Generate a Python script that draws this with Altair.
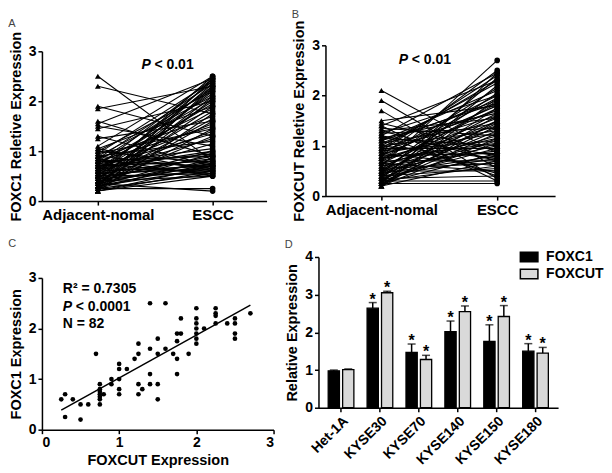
import altair as alt
import pandas as pd

FONT = "Liberation Sans"

# ---------------- Panel A: FOXC1, paired adjacent-normal vs ESCC ----------------
a_adj = [2.5, 2.3, 1.9, 1.85, 1.6, 1.55, 1.5, 1.45, 1.3, 1.25,
         1.1, 1.05, 1.05, 1.0, 1.0, 0.95, 0.95, 0.9, 0.9, 0.9,
         0.85, 0.85, 0.85, 0.8, 0.8, 0.8, 0.8, 0.75, 0.75, 0.75,
         0.75, 0.7, 0.7, 0.7, 0.7, 0.65, 0.65, 0.65, 0.65, 0.6,
         0.6, 0.6, 0.6, 0.55, 0.55, 0.55, 0.55, 0.5, 0.5, 0.5,
         0.5, 0.5, 0.45, 0.45, 0.45, 0.45, 0.4, 0.4, 0.4, 0.4,
         0.4, 0.35, 0.35, 0.35, 0.35, 0.35, 0.3, 0.3, 0.3, 0.3,
         0.3, 0.3, 0.25, 0.25, 0.25, 0.25, 0.25, 0.2, 0.2, 0.2,
         0.2, 0.2]
a_escc = [0.8, 1.75, 1.3, 2.3, 0.9, 2.45, 1.1, 2.0, 0.7, 1.6,
          2.5, 0.6, 1.9, 2.2, 0.75, 1.45, 2.4, 0.65, 1.2, 2.1,
          0.5, 1.7, 2.35, 0.9, 1.5, 2.25, 0.7, 1.05, 2.05, 0.55,
          1.85, 2.45, 0.8, 1.35, 0.95, 2.15, 0.6, 1.55, 1.0, 2.3,
          0.7, 1.25, 1.95, 0.85, 2.4, 0.65, 1.4, 2.0, 0.75, 1.15,
          2.5, 0.55, 1.8, 0.9, 2.2, 0.6, 1.65, 0.7, 2.35, 1.0,
          0.5, 0.2, 1.9, 0.8, 2.1, 1.3, 0.65, 2.25, 0.95, 1.6,
          0.75, 2.45, 0.55, 1.45, 0.85, 2.05, 0.25, 0.7, 1.75, 0.6,
          2.3, 0.5]

# ---------------- Panel B: FOXCUT, paired adjacent-normal vs ESCC ----------------
b_adj = [2.1, 1.9, 1.7, 1.5, 1.45, 1.4, 1.35, 1.3, 1.3, 1.25,
         1.25, 1.2, 1.2, 1.15, 1.15, 1.1, 1.1, 1.05, 1.05, 1.0,
         1.0, 1.0, 0.95, 0.95, 0.9, 0.9, 0.9, 0.85, 0.85, 0.85,
         0.8, 0.8, 0.8, 0.75, 0.75, 0.75, 0.7, 0.7, 0.7, 0.65,
         0.65, 0.65, 0.6, 0.6, 0.6, 0.55, 0.55, 0.55, 0.5, 0.5,
         0.5, 0.45, 0.45, 0.45, 0.45, 0.4, 0.4, 0.4, 0.4, 0.35,
         0.35, 0.35, 0.35, 0.3, 0.3, 0.3, 0.3, 0.3, 0.25, 0.25,
         0.25, 0.25, 0.25, 0.2, 0.2, 0.2, 0.2, 1.4, 1.2, 1.1,
         0.95, 0.5]
b_escc = [0.85, 0.55, 0.35, 1.8, 0.9, 2.3, 1.2, 1.55, 0.7, 2.0,
          1.35, 0.8, 2.45, 1.65, 1.0, 2.1, 0.45, 1.45, 1.9, 0.75,
          2.25, 1.3, 1.7, 0.95, 2.4, 1.1, 1.6, 0.6, 2.0, 1.25,
          1.8, 0.85, 2.5, 1.4, 1.05, 1.95, 0.7, 1.55, 2.15, 1.15,
          0.5, 1.75, 2.7, 1.35, 0.9, 1.85, 1.2, 0.65, 2.05, 1.5,
          1.0, 0.8, 1.65, 2.35, 1.1, 0.55, 1.45, 1.9, 0.75, 1.3,
          2.2, 0.95, 0.4, 1.6, 1.05, 0.3, 1.75, 0.6, 1.4, 2.45,
          0.85, 1.25, 0.25, 1.5, 0.7, 1.15, 1.95, 0.3, 0.4, 1.85,
          2.3, 0.5]

# ---------------- Panel C: correlation scatter ----------------
c_foxcut = [0.25, 0.3, 0.3, 0.4, 0.5, 0.5, 0.6, 0.7,
            0.75, 0.75, 0.75, 0.75, 0.75, 0.75, 0.75, 0.8,
            0.9, 0.9, 1.0, 1.0, 1.0, 1.0, 1.0, 1.1, 1.2,
            1.25, 1.25, 1.25, 1.25, 1.3, 1.4, 1.4, 1.4, 1.4,
            1.5, 1.5, 1.5, 1.5, 1.6, 1.6, 1.7, 1.75, 1.75, 1.75, 1.75,
            1.8, 1.8, 1.9, 2.0, 2.0, 2.0, 2.0, 2.0, 2.0, 2.0, 2.1,
            2.25, 2.25, 2.25, 2.25, 2.4, 2.5, 2.5, 2.5, 2.5, 2.7]
c_foxc1 = [0.6, 0.7, 0.25, 0.6, 0.5, 0.2, 0.5, 1.5,
           0.9, 0.8, 0.75, 0.7, 0.65, 0.6, 0.5, 0.7,
           1.0, 0.9, 1.3, 1.2, 1.0, 0.8, 0.7, 1.2, 1.4,
           1.7, 1.5, 0.9, 0.7, 0.8, 2.5, 1.6, 1.1, 0.9,
           1.8, 1.5, 0.9, 0.6, 2.5, 1.6, 1.5, 1.9, 1.75, 1.4, 1.1,
           1.9, 2.2, 1.5, 2.4, 2.2, 2.1, 2.0, 1.9, 1.8, 1.7, 2.0,
           2.4, 2.3, 2.25, 2.1, 2.1, 2.2, 2.1, 1.9, 1.8, 2.3]

# ---------------- Panel D: cell lines ----------------
cells = ["Het-1A", "KYSE30", "KYSE70", "KYSE140", "KYSE150", "KYSE180"]
foxc1_mean = [0.98, 2.64, 1.47, 2.02, 1.76, 1.50]
foxc1_err = [0.02, 0.15, 0.22, 0.28, 0.44, 0.20]
foxcut_mean = [1.01, 3.05, 1.28, 2.55, 2.42, 1.45]
foxcut_err = [0.02, 0.04, 0.11, 0.15, 0.29, 0.15]
significant = [False, True, True, True, True, True]

LAB = dict(labelFont=FONT, labelFontWeight="bold", labelColor="black",
           titleFont=FONT, titleFontWeight="bold", titleFontSize=14.5, titleColor="black",
           domainColor="black", domainWidth=1.5, tickColor="black", tickWidth=1.5,
           tickSize=4, labelPadding=2, grid=False)


def letter(t, off):
    return alt.TitleParams(text=t, anchor="start", frame="bounds", offset=off,
                           fontSize=11, fontWeight="normal", font=FONT, color="#444")


def paired(adj, escc, ytitle, tag, w, h, top, xdom, px, py, off):
    rows = []
    for i, (a, e) in enumerate(zip(adj, escc)):
        rows.append({"id": i, "grp": 0, "v": a})
        rows.append({"id": i, "grp": 1, "v": e})
    df = pd.DataFrame(rows)
    xenc = alt.X("grp:Q", scale=alt.Scale(domain=xdom, nice=False, zero=False),
                 axis=alt.Axis(values=[0, 1], title=None, labelFontSize=15,
                               labelExpr="datum.value == 0 ? 'Adjacent-nomal' : 'ESCC'", **LAB))
    yenc = alt.Y("v:Q", scale=alt.Scale(domain=[0, 3], nice=False, range=[h, top]),
                 axis=alt.Axis(values=[0, 1, 2, 3], title=ytitle, titlePadding=5,
                               labelFontSize=14, **LAB))
    base = alt.Chart(df)
    lines = base.mark_line(color="black", strokeWidth=1.1).encode(x=xenc, y=yenc, detail="id:N")
    tri = base.transform_filter("datum.grp == 0").mark_point(
        shape="triangle-up", filled=True, color="black", size=34, opacity=1).encode(x=xenc, y=yenc)
    circ = base.transform_filter("datum.grp == 1").mark_circle(
        color="black", size=32, opacity=1).encode(x=xenc, y=yenc)
    ptxt = pd.DataFrame({"grp": [px], "v": [py]})
    p1 = alt.Chart(ptxt).mark_text(text="P", fontStyle="italic", fontWeight="bold", font=FONT,
                                   fontSize=14, align="left", baseline="middle",
                                   color="black").encode(x=xenc, y=yenc)
    p2 = alt.Chart(ptxt).mark_text(text="< 0.01", fontWeight="bold", font=FONT, fontSize=14,
                                   align="left", baseline="middle", dx=13,
                                   color="black").encode(x=xenc, y=yenc)
    return alt.layer(lines, tri, circ, p1, p2).properties(
        width=w, height=h, title=letter(tag, off))


A = paired(a_adj, a_escc, "FOXC1 Reletive Expression", "A", 225, 156, 6,
           [-0.487, 1.47], 0.38, 2.72, 2)
B = paired(b_adj, b_escc, "FOXCUT Reletive Expression", "B", 230, 151, 0,
           [-0.483, 1.5], 0.15, 2.70, 0)

# Panel C
CH, CTOP = 173, 21
dfc = pd.DataFrame({"x": c_foxcut, "y": c_foxc1})
xc = alt.X("x:Q", scale=alt.Scale(domain=[0, 3], nice=False),
           axis=alt.Axis(values=[0, 1, 2, 3], title="FOXCUT Expression", titlePadding=4,
                         labelFontSize=14, **LAB))
yc = alt.Y("y:Q", scale=alt.Scale(domain=[0, 3], nice=False, range=[CH, CTOP]),
           axis=alt.Axis(values=[0, 1, 2, 3], title="FOXC1 Expression", titlePadding=5,
                         labelFontSize=14, **LAB))
pts = alt.Chart(dfc).mark_circle(color="black", size=22, opacity=1).encode(x=xc, y=yc)
reg = alt.Chart(dfc).transform_regression("x", "y", extent=[0.25, 2.7]).mark_line(
    color="black", strokeWidth=1.5).encode(x=xc, y=yc)
ann_plain = pd.DataFrame({"x": [0.27, 0.27], "y": [2.78, 2.09],
                          "t": ["R\u00b2 = 0.7305", "N = 82"]})
ann1 = alt.Chart(ann_plain).mark_text(fontWeight="bold", font=FONT, fontSize=14, align="left",
                                      baseline="middle", color="black").encode(x=xc, y=yc, text="t:N")
annp = pd.DataFrame({"x": [0.27], "y": [2.43]})
ann2 = alt.Chart(annp).mark_text(text="P", fontStyle="italic", fontWeight="bold", font=FONT,
                                 fontSize=14, align="left", baseline="middle",
                                 color="black").encode(x=xc, y=yc)
ann3 = alt.Chart(annp).mark_text(text="< 0.0001", fontWeight="bold", font=FONT, fontSize=14,
                                 align="left", baseline="middle", dx=13,
                                 color="black").encode(x=xc, y=yc)
C = alt.layer(pts, reg, ann1, ann2, ann3).properties(width=232, height=CH, title=letter("C", 8))

# Panel D
rows = []
for i, c in enumerate(cells):
    rows.append({"cell": c, "gene": "FOXC1", "val": foxc1_mean[i],
                 "up": foxc1_mean[i] + foxc1_err[i], "star": significant[i]})
    rows.append({"cell": c, "gene": "FOXCUT", "val": foxcut_mean[i],
                 "up": foxcut_mean[i] + foxcut_err[i], "star": significant[i]})
dfd = pd.DataFrame(rows)

xd = alt.X("cell:N", sort=cells, scale=alt.Scale(paddingInner=0.34, paddingOuter=0.25),
           axis=alt.Axis(title=None, labelAngle=-45, labelFontSize=14, **LAB))
xo = alt.XOffset("gene:N", sort=["FOXC1", "FOXCUT"], scale=alt.Scale(paddingInner=0.22))


def yd(field):
    return alt.Y(field, scale=alt.Scale(domain=[0, 4], nice=False),
                 axis=alt.Axis(values=[0, 1, 2, 3, 4], title="Relative Expression",
                               titlePadding=5, labelFontSize=14, **LAB))


legend_path = "M-1.1,-0.6L1.1,-0.6L1.1,0.6L-1.1,0.6Z"
bars = alt.Chart(dfd).mark_bar(stroke="black", strokeWidth=1.3).encode(
    x=xd, xOffset=xo, y=yd("val:Q"),
    fill=alt.Fill("gene:N", scale=alt.Scale(domain=["FOXC1", "FOXCUT"], range=["black", "#d9d9d9"]),
                  legend=alt.Legend(orient="none", legendX=479, legendY=203, title=None,
                                    labelFont=FONT, labelFontSize=14, labelFontWeight="bold",
                                    labelColor="black", symbolType=legend_path, symbolSize=256,
                                    symbolStrokeColor="black", symbolStrokeWidth=1.5,
                                    labelOffset=8, rowPadding=-1)))
err = alt.Chart(dfd).mark_rule(color="black", strokeWidth=1.5).encode(
    x=xd, xOffset=xo, y=yd("val:Q"), y2="up:Q")
cap = alt.Chart(dfd).mark_tick(color="black", size=8, thickness=1.5).encode(
    x=xd, xOffset=xo, y=yd("up:Q"))
stars = alt.Chart(dfd).transform_filter("datum.star").mark_text(
    text="*", font=FONT, fontWeight="bold", fontSize=16, dy=-3, color="black").encode(
    x=xd, xOffset=xo, y=yd("up:Q"))
D = alt.layer(bars, err, cap, stars).properties(width=240, height=151, title=letter("D", 0))

row1 = alt.hconcat(A, B, spacing=25)
row2 = alt.hconcat(C, D, spacing=10)
chart = alt.vconcat(row1, row2, spacing=16).configure(
    padding={"left": 0, "right": 0, "top": 0, "bottom": 0}
).configure_view(stroke=None)

chart.save("out.html", embed_options={"renderer": "svg", "actions": False})
